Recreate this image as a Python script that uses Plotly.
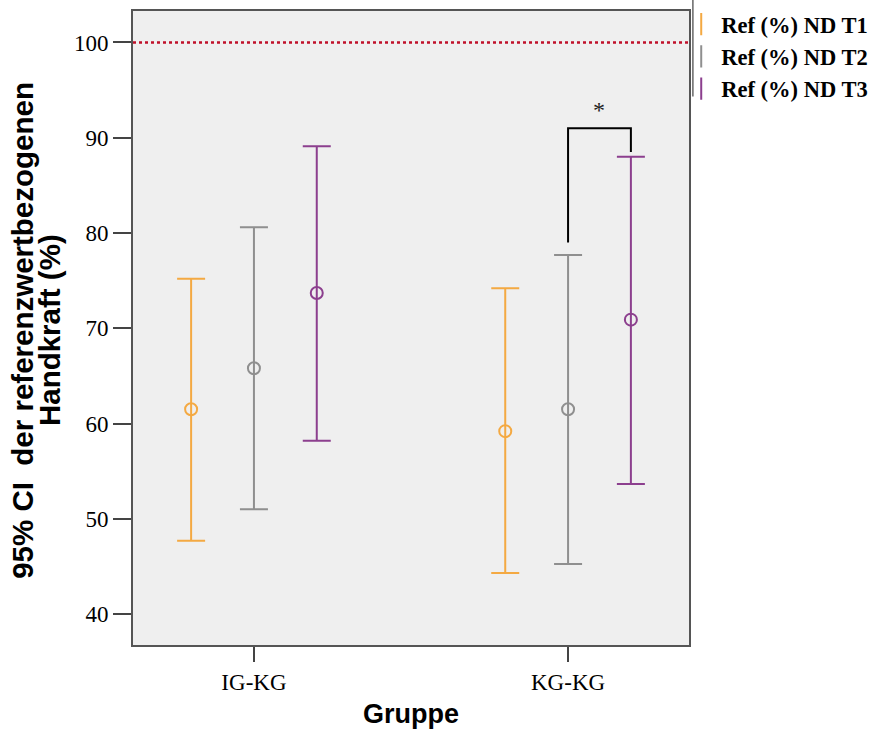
import plotly.graph_objects as go

# ---- data ----
categories = ["IG-KG", "KG-KG"]
series_names = ["Ref (%) ND T1", "Ref (%) ND T2", "Ref (%) ND T3"]
series_colors = ["#F4A942", "#8F8F8F", "#8C3F8E"]

mean_t1 = [61.5, 59.2]
lower_t1 = [47.7, 44.3]
upper_t1 = [75.2, 74.2]

mean_t2 = [65.8, 61.5]
lower_t2 = [51.0, 45.25]
upper_t2 = [80.6, 77.7]

mean_t3 = [73.7, 70.9]
lower_t3 = [58.2, 53.65]
upper_t3 = [89.1, 88.0]

reference_value = 100
y_ticks = [40, 50, 60, 70, 80, 90, 100]

# significance bracket (KG-KG: T2 vs T3)
sig_group = "KG-KG"
sig_left_end = 79.0
sig_right_end = 88.5
sig_top = 91.0
sig_label = "*"

means = [mean_t1, mean_t2, mean_t3]
lowers = [lower_t1, lower_t2, lower_t3]
uppers = [upper_t1, upper_t2, upper_t3]
offsets = [-0.2, 0.0, 0.2]

serif = "Liberation Serif, Times New Roman, serif"
sans = "Liberation Sans, Arial, sans-serif"

fig = go.Figure()
for name, color, m, lo, up, off in zip(series_names, series_colors, means, lowers, uppers, offsets):
    xs = [i + off for i in range(len(categories))]
    fig.add_trace(go.Scatter(
        x=xs, y=m, mode="markers", name=name, showlegend=False,
        marker=dict(symbol="circle-open", size=12, color=color, line=dict(width=2, color=color)),
        error_y=dict(type="data", symmetric=False,
                     array=[u - v for u, v in zip(up, m)],
                     arrayminus=[v - l for v, l in zip(m, lo)],
                     color=color, thickness=2, width=14),
    ))
    # legend-only entry with an "I"-like icon
    fig.add_trace(go.Scatter(
        x=[None], y=[None], mode="markers", name=name, showlegend=True,
        marker=dict(symbol="line-ns-open", size=16, color=color, line=dict(width=2, color=color)),
    ))

# reference line at 100
fig.add_shape(type="line", xref="paper", x0=0, x1=1, yref="y", y0=reference_value, y1=reference_value,
              line=dict(color="#C0102A", width=2.5, dash="dot"), layer="above")

# significance bracket
gi = categories.index(sig_group)
xl = gi + offsets[1]
xr = gi + offsets[2]
fig.add_shape(type="path",
              path=f"M {xl} {sig_left_end} L {xl} {sig_top} L {xr} {sig_top} L {xr} {sig_right_end}",
              xref="x", yref="y", line=dict(color="black", width=2))
fig.add_annotation(x=(xl + xr) / 2, y=sig_top, xref="x", yref="y", text=sig_label,
                   showarrow=False, yanchor="bottom", yshift=3,
                   font=dict(family=serif, size=24, color="#222"))

# legend frame line (left edge)
fig.add_shape(type="line", xref="paper", yref="paper", x0=1.007, x1=1.007, y0=0.865, y1=1.02,
              line=dict(color="#666", width=1.5))

# axis titles as annotations
fig.add_annotation(x=-0.198, y=0.497, xref="paper", yref="paper",
                   text="95% CI  der referenzwertbezogenen", textangle=-90, showarrow=False,
                   xanchor="center", yanchor="middle",
                   font=dict(family=sans, size=29.5, color="black", weight="bold"))
fig.add_annotation(x=-0.149, y=0.497, xref="paper", yref="paper",
                   text="Handkraft (%)", textangle=-90, showarrow=False,
                   xanchor="center", yanchor="middle",
                   font=dict(family=sans, size=29.5, color="black", weight="bold"))
fig.add_annotation(x=0.5, y=-0.1088, xref="paper", yref="paper",
                   text="Gruppe", showarrow=False, xanchor="center", yanchor="middle",
                   font=dict(family=sans, size=27, color="black", weight="bold"))

fig.update_layout(
    width=878, height=731,
    margin=dict(l=133, r=189, t=11, b=86, autoexpand=False),
    paper_bgcolor="white", plot_bgcolor="#EFEFEF",
    showlegend=True,
    legend=dict(x=0.986, y=1.0126, xanchor="left", yanchor="top",
                bgcolor="rgba(0,0,0,0)", borderwidth=0,
                font=dict(family=serif, size=22.5, color="black", weight="bold"),
                itemwidth=30, tracegroupgap=0),
)
fig.update_xaxes(range=[-0.385, 1.385], tickvals=list(range(len(categories))), ticktext=categories,
                 showgrid=False, zeroline=False, showline=True, mirror=True,
                 linecolor="#555", linewidth=2, ticks="outside", ticklen=15, tickwidth=1.5,
                 tickcolor="#444", tickfont=dict(family=serif, size=23, color="#000"))
fig.update_yaxes(range=[36.75, 103.3], tickvals=y_ticks,
                 showgrid=False, zeroline=False, showline=True, mirror=True,
                 linecolor="#555", linewidth=2, ticks="outside", ticklen=18, tickwidth=1.5,
                 tickcolor="#444", tickfont=dict(family=serif, size=23, color="#000"))

fig.write_html("out.html")
